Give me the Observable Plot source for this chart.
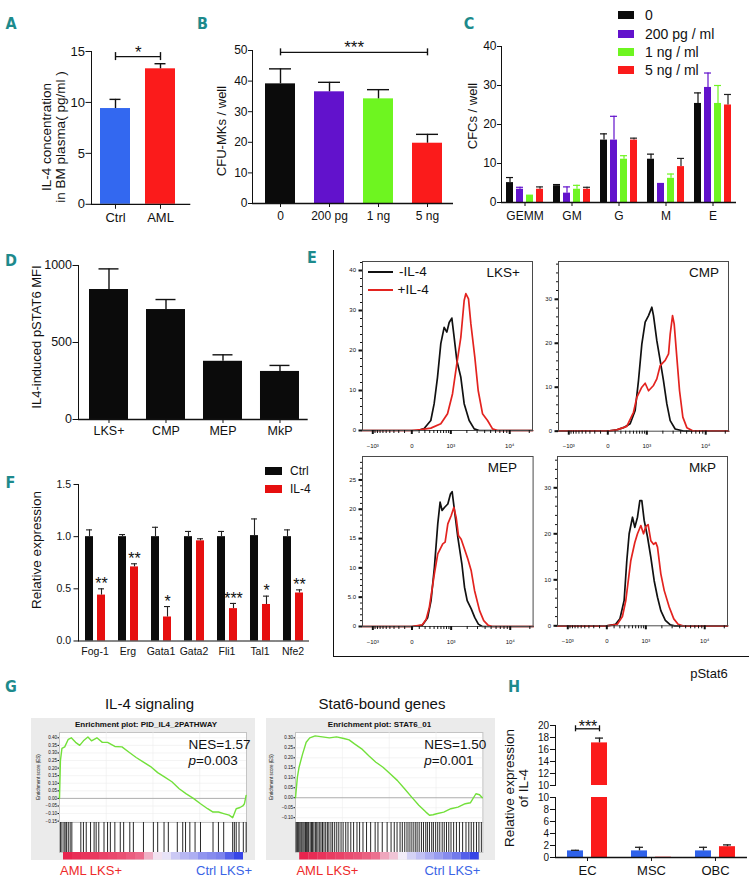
<!DOCTYPE html>
<html><head><meta charset="utf-8">
<script src="https://cdn.jsdelivr.net/npm/d3@7"></script>
<script src="https://cdn.jsdelivr.net/npm/@observablehq/plot@0.6"></script>
<style>
body{margin:0;background:#fff;}
#root{position:relative;width:755px;height:881px;overflow:hidden;background:#fff;font-family:"Liberation Sans",Arial,sans-serif;}
.t{position:absolute;white-space:nowrap;line-height:1;}
</style></head><body><div id="root"></div>
<script>
// ================= DATA =================
// A
const groupsA = ["Ctrl", "AML"];
const valuesA = [9.4, 13.3];
const errorsA = [10.3, 13.8];
const ticksA = [0, 5, 10, 15];
const sigA = {from: "Ctrl", to: "AML", y: 14.5, label: "*"};
// B
const groupsB = ["0", "200 pg", "1 ng", "5 ng"];
const valuesB = [39.1, 36.5, 34.2, 19.7];
const errorsB = [44.0, 39.6, 37.2, 22.6];
const ticksB = [0, 10, 20, 30, 40, 50];
const sigB = {from: "0", to: "5 ng", mid: "200 pg", y: 49.4, label: "***"};
// C
const typesC = ["GEMM", "GM", "G", "M", "E"];
const seriesC = ["0", "200 pg / ml", "1 ng / ml", "5 ng / ml"];
const c0 = [5.1, 4.3, 16.0, 11.1, 25.4];
const c0Err = [6.4, 4.6, 17.6, 12.4, 28.1];
const c200 = [3.4, 2.4, 16.0, 4.9, 29.5];
const c200Err = [3.9, 4.0, 22.1, null, 33.2];
const c1 = [1.9, 3.4, 11.1, 6.2, 25.4];
const c1Err = [null, 4.4, 12.0, 7.3, 30.0];
const c5 = [3.4, 3.4, 16.0, 9.2, 25.0];
const c5Err = [4.0, 3.9, 16.5, 11.3, 27.7];
const ticksC = [0, 10, 20, 30, 40];
// D
const groupsD = ["LKS+", "CMP", "MEP", "MkP"];
const valuesD = [844, 714, 378, 312];
const errorsD = [978, 779, 420, 351];
const ticksD = [0, 500, 1000];
// E (flow histograms: [pStat6 intensity, count])
const flowXMajor = [-1000, 0, 1000, 10000];
const flowXLabels = ["\u221210\u00b3", "0", "10\u00b3", "10\u2074"];
const flowXMinor = [-900,-800,-700,-600,-500,-400,-300,-200,-100,100,200,300,400,500,600,700,800,900,2000,3000,4000,5000,6000,7000,8000,9000,20000];
const flowXDomain = [-1577, 22400];
const lksBlack = [[-1577,0],[0,0],[76,0],[186,0.5],[325,2.5],[408,6.7],[501,13.3],[604,21.7],[721,25.8],[825,24.6],[924,27],[1047,28.1],[1164,23.3],[1311,17.5],[1557,13.3],[1790,6.7],[2195,2.5],[2679,0.4],[3245,0],[22400,0]];
const lksRed = [[-1577,0],[0,0],[128,0.2],[325,0.6],[604,1.7],[854,4.2],[1081,9.2],[1311,16.7],[1557,23.3],[1790,32.5],[1917,34.2],[2137,32.9],[2347,26.7],[2746,18.3],[3125,10],[3687,4.2],[4455,2.5],[5360,0.4],[6440,0],[22400,0]];
const cmpBlack = [[-1577,0],[0,0],[128,0.3],[251,0.8],[408,1.7],[551,4.7],[661,11.5],[785,19.8],[924,24.8],[1081,26.3],[1254,28.2],[1350,26.3],[1557,20.6],[1790,16.1],[2050,11.5],[2347,6.2],[2679,2.4],[3245,0.5],[4455,0],[22400,0]];
const cmpRed = [[-1577,0],[0,0],[128,0.3],[325,1.1],[501,4.3],[604,7.7],[785,10],[924,10.9],[1081,9.2],[1350,10.4],[1557,11.9],[1790,14.9],[2195,16.1],[2510,17.6],[2679,22.1],[2934,26.3],[3125,24.4],[3460,16.8],[3834,9.2],[4340,3.2],[5036,0.8],[6440,0],[22400,0]];
const mepBlack = [[-1577,0],[0,0],[150,0.2],[250,1.5],[325,4.4],[408,10.1],[501,17.5],[572,21.2],[638,19.8],[721,20.3],[854,20.9],[968,22.6],[1047,23],[1164,19.8],[1350,15.2],[1603,10.7],[1790,6.7],[1997,4.4],[2347,3.0],[2700,1.5],[3100,0.4],[3600,0],[22400,0]];
const mepRed = [[-1577,0],[0,0],[150,0.3],[220,1.2],[287,3.3],[408,9.0],[501,12.4],[661,14.1],[747,14.4],[854,17.5],[1000,18.9],[1131,20.3],[1254,18.6],[1387,15.5],[1557,14.9],[1744,13.5],[2050,11.5],[2347,9.5],[2679,6.1],[3245,2.7],[3800,1.0],[4500,0.2],[5200,0],[22400,0]];
const mkpBlack = [[-1577,0],[0,0],[120,0.3],[200,1.5],[287,5.5],[349,14.2],[408,20],[501,23.6],[572,21.4],[661,23.6],[747,27.2],[825,27.2],[924,22.9],[1081,19.3],[1254,14.9],[1451,9.8],[1671,6.2],[1917,3.3],[2300,1.2],[2800,0.2],[3300,0],[22400,0]];
const mkpRed = [[-1577,0],[0,0],[150,0.3],[250,2],[325,5.5],[453,14.2],[572,18.1],[661,20],[785,21.8],[896,20],[1000,21.6],[1111,22],[1254,18.5],[1412,17.7],[1557,18.1],[1671,17.1],[1917,11.3],[2195,7.7],[2679,4.1],[3200,1.5],[3800,0.3],[4500,0],[22400,0]];
const lksTicks = [0, 10, 20, 30, 40], lksLabels = ["0", "10", "20", "30", "40"];
const cmpTicks = [0, 10, 20, 30], cmpLabels = ["0", "10", "20", "30"];
const mepTicks = [0, 5, 10, 15, 20, 25], mepLabels = ["0", "5.0", "10", "15", "20", "25"];
const mkpTicks = [0, 10, 20, 30], mkpLabels = ["0", "10", "20", "30"];
// F
const genesF = ["Fog-1", "Erg", "Gata1", "Gata2", "Fli1", "Tal1", "Nfe2"];
const ctrlF = [1.0, 1.0, 1.0, 1.0, 1.0, 1.01, 1.0];
const ctrlErrF = [1.065, 1.02, 1.09, 1.05, 1.05, 1.17, 1.065];
const il4F = [0.44, 0.71, 0.23, 0.96, 0.31, 0.35, 0.46];
const il4ErrF = [0.50, 0.74, 0.33, 0.98, 0.36, 0.43, 0.49];
const starsF = ["**", "**", "*", "", "***", "*", "**"];
const ticksF = [0, 0.5, 1.0, 1.5];
// G (x = position in ranked gene list, %)
const esIL4 = [[0,0],[0.5,0.25],[1.3,0.33],[2.8,0.34],[4.7,0.39],[6.3,0.40],[8.6,0.37],[10.8,0.35],[12.8,0.38],[15.2,0.405],[17.1,0.38],[20,0.40],[22.9,0.37],[25.7,0.37],[29.6,0.343],[33.4,0.34],[37.2,0.305],[41,0.27],[44.9,0.24],[48.7,0.21],[52.5,0.17],[56.3,0.14],[60.1,0.11],[64,0.064],[67.8,0.03],[71.6,0.0],[75.4,-0.035],[79.2,-0.068],[82.1,-0.09],[85,-0.09],[87.8,-0.10],[90.7,-0.11],[92.6,-0.127],[93.5,-0.10],[94.5,-0.068],[96.5,-0.06],[98,-0.05],[98.9,-0.035],[99.8,0.02]];
const hitsIL4 = [0.5,1.3,2.4,3.0,3.8,4.7,5.7,6.6,11.4,12.8,14.3,16.6,18.5,19.6,21.0,23.8,25.7,27.2,29.6,32.5,34.3,37.6,39.5,44.9,50.2,52.5,55.9,58.2,63.0,65.9,67.4,69.7,72.5,75.4,82.1,85.0,87.8,92.6,93.5,94.5,96.0,98.3,99.8];
const rankIL4 = [1.0,0.95,0.92,0.9,0.85,0.82,0.78,0.72,0.65,0.3,0.05,-0.05,-0.2,-0.3,-0.35,-0.5,-0.55,-0.6,-0.8,-0.95];
const esTicksIL4 = [-0.15,-0.10,-0.05,0,0.05,0.10,0.15,0.20,0.25,0.30,0.35,0.40];
const esStat6 = [[0,0],[1,0.103],[1.9,0.153],[3.8,0.22],[5.7,0.278],[7.6,0.30],[10.5,0.31],[14.3,0.305],[18.1,0.30],[21.9,0.305],[25.8,0.297],[28.6,0.29],[31.5,0.27],[35.3,0.245],[39.1,0.21],[42.9,0.178],[46.7,0.153],[50.5,0.12],[54.3,0.087],[58.2,0.045],[62,0.003],[65.8,-0.038],[69.6,-0.072],[71.5,-0.088],[73.4,-0.085],[75.3,-0.08],[79.1,-0.072],[82.9,-0.055],[86.7,-0.047],[90.6,-0.03],[93.4,-0.025],[96.3,0.02],[98.2,0.015],[99.7,0.0]];
const hitsStat6 = [0.3,0.8,1.2,1.7,2.3,2.9,3.4,4.0,4.6,5.3,5.9,6.5,7.0,7.8,8.5,9.1,9.8,10.6,11.3,12.0,12.9,13.6,14.4,15.2,16.1,17.0,17.8,18.9,19.8,20.9,22.0,23.1,24.3,25.4,26.8,28.0,29.5,31.0,32.8,34.2,36.0,37.9,40.1,42.5,44.0,46.3,48.9,51.0,52.7,54.2,55.8,57.0,58.3,59.5,60.6,61.7,62.8,63.9,64.9,66.0,67.2,68.3,69.5,70.4,71.5,72.7,73.6,74.8,75.9,77.0,78.3,79.4,80.6,81.8,83.0,84.4,85.9,87.5,89.2,91.0,92.5,93.8,95.1,96.6,97.9,99.2];
const rankStat6 = [1.0,0.96,0.92,0.88,0.85,0.8,0.76,0.7,0.62,0.35,0.2,0.0,-0.15,-0.25,-0.35,-0.45,-0.55,-0.65,-0.8,-0.95];
const esTicksStat6 = [-0.10,-0.05,0,0.05,0.10,0.15,0.20,0.25,0.30];
// H
const groupsH = ["EC", "MSC", "OBC"];
const ctrlH = [1.1, 1.1, 1.1];
const ctrlErrH = [1.2, 1.7, 1.7];
const amlH = [17.1, 0.05, 1.8];
const amlErrH = [17.9, null, 2.1];
const ticksHLow = [0, 2, 4, 6, 8, 10];
const ticksHHigh = [10, 12, 14, 16, 18, 20];
const sigH = {group: "EC", from: "Ctrl", to: "AML", y: 19.45, label: "***"};

// ================= STYLE =================
const INK = "#111", BLUE = "#3368f0", RED = "#fb1b1b", PURPLE = "#6212cc", GREEN = "#6ef520";
const FLOWRED = "#e3231f", ESGREEN = "#72e03a", TEAL = "#1d8a8c";
const FONT = '"Liberation Sans", Arial, sans-serif';
const HAS_AXIS = typeof Plot.axisX === "function";
const root = document.getElementById("root");

function place(frame, pad, opts) {
  const [x0, y0, x1, y1] = frame, [pt, pr, pb, pl] = pad;
  const style = Object.assign({background: "transparent", overflow: "visible", fontFamily: FONT, color: INK}, opts.style || {});
  const svg = Plot.plot(Object.assign({}, opts, {
    width: x1 - x0 + pl + pr, height: y1 - y0 + pt + pb,
    marginTop: pt, marginRight: pr, marginBottom: pb, marginLeft: pl, style
  }));
  svg.style.position = "absolute";
  svg.style.left = (x0 - pl) + "px";
  svg.style.top = (y0 - pt) + "px";
  svg.style.maxWidth = "none";
  root.appendChild(svg);
  return svg;
}
const rel = (frame, pad, a, b) => [a - (frame[0] - pad[3]), b - (frame[0] - pad[3])];
const pxToY = (frame, span, px) => px * span / (frame[3] - frame[1]);

function txt(s, x, y, o = {}) {
  const d = document.createElement("div");
  d.className = "t"; d.innerHTML = s;
  const a = o.anchor || "middle";
  const tx = a === "start" ? "0" : a === "end" ? "-100%" : "-50%";
  const tr = o.rotate ? "translate(-50%,-50%) rotate(-90deg)" : `translate(${tx},-50%)`;
  Object.assign(d.style, {left: x + "px", top: y + "px", fontSize: (o.size || 13) + "px", color: o.color || INK,
    fontFamily: o.font || FONT, fontWeight: o.weight || "normal", transform: tr, textAlign: "center"});
  if (o.lh) d.style.lineHeight = o.lh;
  root.appendChild(d);
  return d;
}
function box(x, y, w, h, bg) {
  const d = document.createElement("div");
  Object.assign(d.style, {position: "absolute", left: x + "px", top: y + "px", width: w + "px", height: h + "px", background: bg});
  root.appendChild(d);
}
function letter(s, x, y) { txt(s, x, y, {size: 16, weight: "bold", color: TEAL, font: '"DejaVu Sans Condensed","DejaVu Sans",sans-serif'}); }

// ================= A =================
{
  const frame = [90.7, 50.7, 190, 203.5], pad = [20, 10, 30, 40];
  const range = rel(frame, pad, 99, 174.5), pi = 0.34, step = (range[1] - range[0]) / (groupsA.length - pi);
  const colA = [BLUE, RED];
  const rows = groupsA.map((g, i) => ({g, v: valuesA[i], e: errorsA[i], c: colA[i]}));
  const cap = pxToY(frame, 15, 4);
  place(frame, pad, {
    style: {fontSize: "13px"}, color: {type: "identity"},
    x: {type: "band", domain: groupsA, range, paddingInner: pi, paddingOuter: 0, label: null, tickSize: 5, tickPadding: 3},
    y: {domain: [0, 15], ticks: ticksA, tickSize: 5.5, tickPadding: 1, label: null, line: true},
    marks: [
      Plot.barY(rows, {x: "g", y: "v", fill: "c"}),
      Plot.ruleX(rows, {x: "g", y1: "v", y2: "e", stroke: INK, strokeWidth: 1.4}),
      Plot.tickY(rows, {x: "g", y: "e", stroke: INK, strokeWidth: 1.4, insetLeft: 9.5, insetRight: 9.5}),
      Plot.ruleY([0], {stroke: INK, strokeWidth: 1.3}),
      Plot.link([sigA], {x1: "from", x2: "to", y1: "y", y2: "y", stroke: INK, strokeWidth: 1.4}),
      Plot.ruleX([sigA.from, sigA.to], {x: d => d, y1: sigA.y - cap, y2: sigA.y + cap, stroke: INK, strokeWidth: 1.4}),
      Plot.text([sigA], {x: "from", y: "y", text: "label", dx: step / 2, dy: -4, fontSize: 17})
    ]
  });
}
// ================= B =================
{
  const frame = [252, 50, 453, 203], pad = [20, 10, 30, 40];
  const range = rel(frame, pad, 264, 442), pi = 0.39, step = (range[1] - range[0]) / (groupsB.length - pi);
  const colB = ["#0b0b0b", PURPLE, GREEN, RED];
  const rows = groupsB.map((g, i) => ({g, v: valuesB[i], e: errorsB[i], c: colB[i]}));
  const cap = pxToY(frame, 50, 3.5);
  place(frame, pad, {
    style: {fontSize: "12px"}, color: {type: "identity"},
    x: {type: "band", domain: groupsB, range, paddingInner: pi, paddingOuter: 0, label: null, tickSize: 4, tickPadding: 4},
    y: {domain: [0, 50], ticks: ticksB, tickSize: 4, tickPadding: 1, label: null, line: true},
    marks: [
      Plot.barY(rows, {x: "g", y: "v", fill: "c"}),
      Plot.ruleX(rows, {x: "g", y1: "v", y2: "e", stroke: INK, strokeWidth: 1.4}),
      Plot.tickY(rows, {x: "g", y: "e", stroke: INK, strokeWidth: 1.4, insetLeft: 4, insetRight: 4}),
      Plot.ruleY([0], {stroke: INK, strokeWidth: 1.3}),
      Plot.link([sigB], {x1: "from", x2: "to", y1: "y", y2: "y", stroke: INK, strokeWidth: 1.4}),
      Plot.ruleX([sigB.from, sigB.to], {x: d => d, y1: sigB.y - cap, y2: sigB.y + cap, stroke: INK, strokeWidth: 1.4}),
      Plot.text([sigB], {x: "mid", y: "y", text: "label", dx: step / 2, dy: -5, fontSize: 17})
    ]
  });
}
// ================= C =================
{
  const frame = [500.7, 45.7, 735.7, 201.7], pad = [10, 10, 30, 36];
  const valsC = [c0, c200, c1, c5], errsC = [c0Err, c200Err, c1Err, c5Err];
  const colC = ["#0b0b0b", PURPLE, GREEN, RED], errColC = [INK, PURPLE, GREEN, "#222"];
  const rows = typesC.flatMap((t, i) => seriesC.map((s, j) => ({t, s, v: valsC[j][i], e: errsC[j][i], c: colC[j], ec: errColC[j]})));
  const errRows = rows.filter(d => d.e != null);
  place(frame, pad, {
    style: {fontSize: "12px"}, color: {type: "identity"},
    fx: {domain: typesC, padding: 0, axis: "bottom", tickSize: 4, tickPadding: 5, label: null},
    x: {domain: seriesC, paddingInner: 0.35, paddingOuter: 0.525, axis: null},
    y: {domain: [0, 40], ticks: ticksC, tickSize: 4, tickPadding: 1, label: null, line: true},
    marks: [
      Plot.barY(rows, {fx: "t", x: "s", y: "v", fill: "c"}),
      Plot.ruleX(errRows, {fx: "t", x: "s", y1: "v", y2: "e", stroke: "ec", strokeWidth: 1.2}),
      Plot.tickY(errRows, {fx: "t", x: "s", y: "e", stroke: "ec", strokeWidth: 1.2}),
      Plot.ruleY([0], {stroke: INK, strokeWidth: 1.3})
    ]
  });
  const legY = [15.3, 33.5, 51.7, 70];
  seriesC.forEach((s, j) => { box(618, legY[j] - 4, 16, 8, colC[j]); txt(s, 645, legY[j], {anchor: "start", size: 14}); });
}
// ================= D =================
{
  const frame = [78.3, 265, 308, 419], pad = [10, 10, 30, 45];
  const range = rel(frame, pad, 87.7, 299.5);
  const rows = groupsD.map((g, i) => ({g, v: valuesD[i], e: errorsD[i]}));
  place(frame, pad, {
    style: {fontSize: "12.5px"},
    x: {type: "band", domain: groupsD, range, paddingInner: 0.323, paddingOuter: 0, label: null, tickSize: 4, tickPadding: 3},
    y: {domain: [0, 1000], ticks: ticksD, tickFormat: d => String(d), tickSize: 5.5, tickPadding: 1, label: null, line: true},
    marks: [
      Plot.barY(rows, {x: "g", y: "v", fill: "#0b0b0b"}),
      Plot.ruleX(rows, {x: "g", y1: "v", y2: "e", stroke: INK, strokeWidth: 1.4}),
      Plot.tickY(rows, {x: "g", y: "e", stroke: INK, strokeWidth: 1.4, insetLeft: 9.5, insetRight: 9.5}),
      Plot.ruleY([0], {stroke: INK, strokeWidth: 1.3})
    ]
  });
}
// ================= E =================
function flow(frame, yDomain, yTicks, yLabels, minorStep, black, red) {
  const yMinor = d3.range(0, yDomain[1], minorStep);
  const marks = [
    Plot.line(black, {x: d => d[0], y: d => d[1], stroke: INK, strokeWidth: 1.7}),
    Plot.line(red, {x: d => d[0], y: d => d[1], stroke: FLOWRED, strokeWidth: 1.7}),
    Plot.frame({stroke: "#4a4a4a", strokeWidth: 1})
  ];
  const opts = {style: {fontSize: "6px"}, x: {type: "symlog", constant: 350, domain: flowXDomain, label: null}, y: {domain: yDomain, label: null}};
  if (HAS_AXIS) {
    marks.push(
      Plot.axisY(yMinor, {tickSize: 2, strokeWidth: 1, tickFormat: () => "", label: null}),
      Plot.axisY(yTicks, {tickSize: 3.5, strokeWidth: 2, tickPadding: 3, tickFormat: d => yLabels[yTicks.indexOf(d)], label: null}),
      Plot.axisX(flowXMinor, {tickSize: 3, strokeWidth: 1, tickFormat: () => "", label: null}),
      Plot.axisX(flowXMajor, {tickSize: 4, strokeWidth: 2, tickPadding: 9, tickFormat: d => flowXLabels[flowXMajor.indexOf(d)], label: null})
    );
  } else {
    Object.assign(opts.x, {ticks: flowXMajor, tickFormat: d => flowXLabels[flowXMajor.indexOf(d)], tickSize: 4, tickPadding: 9});
    Object.assign(opts.y, {ticks: yTicks, tickFormat: d => yLabels[yTicks.indexOf(d)], tickSize: 3.5, tickPadding: 3});
  }
  opts.marks = marks;
  place(frame, [6, 8, 24, 28], opts);
}
flow([361.7, 261, 531.7, 430], [0, 42.25], lksTicks, lksLabels, 2, lksBlack, lksRed);
flow([558.3, 261, 728.3, 430.7], [0, 38.6], cmpTicks, cmpLabels, 2, cmpBlack, cmpRed);
flow([361.7, 456, 532.3, 626], [0, 29], mepTicks, mepLabels, 1, mepBlack, mepRed);
flow([556.7, 456, 726.7, 625.3], [0, 36.8], mkpTicks, mkpLabels, 2, mkpBlack, mkpRed);
box(332.5, 250, 1.5, 406.5, INK);
box(332.5, 655.5, 416, 1.5, INK);
box(368, 271, 25, 1.6, INK); txt("-IL-4", 399, 271.7, {anchor: "start", size: 13.5});
box(368, 289.3, 25, 1.6, FLOWRED); txt("+IL-4", 397.5, 290, {anchor: "start", size: 13.5});
txt("LKS+", 520, 273, {anchor: "end", size: 13.5});
txt("CMP", 719, 273, {anchor: "end", size: 13.5});
txt("MEP", 517, 468, {anchor: "end", size: 13.5});
txt("MkP", 716, 468, {anchor: "end", size: 13.5});
txt("pStat6", 709, 673, {size: 13});

// ================= F =================
{
  const frame = [77.3, 484, 310.6, 640.5], pad = [10, 10, 24, 40];
  const rows = genesF.flatMap((g, i) => [
    {g, s: "Ctrl", v: ctrlF[i], e: ctrlErrF[i], c: "#0b0b0b", star: ""},
    {g, s: "IL-4", v: il4F[i], e: il4ErrF[i], c: "#e60f0f", star: starsF[i]}
  ]);
  place(frame, pad, {
    style: {fontSize: "10.5px"}, color: {type: "identity"},
    fx: {domain: genesF, padding: 0, axis: "bottom", tickSize: 0, tickPadding: 7, label: null},
    x: {domain: ["Ctrl", "IL-4"], paddingInner: 0.35, paddingOuter: 0.486, axis: null},
    y: {domain: [0, 1.5], ticks: ticksF, tickFormat: d3.format(".1f"), tickSize: 4.5, tickPadding: 3, label: null, line: true},
    marks: [
      Plot.barY(rows, {fx: "g", x: "s", y: "v", fill: "c"}),
      Plot.ruleX(rows, {fx: "g", x: "s", y1: "v", y2: "e", stroke: "#222", strokeWidth: 1.1}),
      Plot.tickY(rows, {fx: "g", x: "s", y: "e", stroke: "#222", strokeWidth: 1.1, insetLeft: 1, insetRight: 1}),
      Plot.text(rows.filter(d => d.star), {fx: "g", x: "s", y: "e", text: "star", dy: -5, fontSize: 16}),
      Plot.ruleY([0], {stroke: INK, strokeWidth: 1.2})
    ]
  });
  box(265, 467, 17, 8, "#0b0b0b"); txt("Ctrl", 290, 471, {anchor: "start", size: 12});
  box(265, 485, 17, 8, "#e60f0f"); txt("IL-4", 290, 489, {anchor: "start", size: 12});
}

// ================= G =================
function gsea(esFrame, hitFrame, barFrame, yDomain, yTicks, es, hits, rank) {
  place(esFrame, [2, 2, 2, 14], {
    style: {fontSize: "4.5px"},
    x: {domain: [0, 100], axis: null},
    y: {domain: yDomain, ticks: yTicks, tickFormat: d3.format(".2f"), tickSize: 1.5, tickPadding: 1, label: null},
    marks: [
      Plot.frame({fill: "white", stroke: "#c4c4c4"}),
      Plot.ruleY(yTicks, {stroke: "#ececec", strokeWidth: 0.6}),
      Plot.ruleX([25, 50, 75], {stroke: "#ececec", strokeWidth: 0.6}),
      Plot.ruleY([0], {stroke: "#a0a0a0", strokeWidth: 0.8}),
      Plot.line(es, {x: d => d[0], y: d => d[1], stroke: ESGREEN, strokeWidth: 1.4})
    ]
  });
  place(hitFrame, [0, 2, 0, 2], {
    x: {domain: [0, 100], axis: null},
    marks: [Plot.frame({fill: "white", stroke: "#c4c4c4"}), Plot.ruleX(hits, {x: d => d, stroke: INK, strokeWidth: 0.9})]
  });
  place(barFrame, [0, 2, 0, 2], {
    x: {type: "band", domain: d3.range(rank.length), padding: 0, axis: null},
    color: {type: "linear", domain: [-1, 0, 1], range: ["#2d3ce6", "#f2ecf8", "#e8244e"]},
    marks: [Plot.cell(rank, {x: (d, i) => i, fill: d => d, inset: 0})]
  });
}
box(31, 718, 224, 142, "#ebebeb");
box(266, 718, 228.6, 142, "#ebebeb");
gsea([59, 732, 246, 822], [59, 822, 246, 852], [59, 852, 246, 859.5], [-0.159, 0.435], esTicksIL4, esIL4, hitsIL4, rankIL4);
gsea([294.6, 732, 482, 822], [294.6, 822, 482, 852], [294.6, 852, 482, 859.5], [-0.124, 0.327], esTicksStat6, esStat6, hitsStat6, rankStat6);
txt("IL-4 signaling", 149.5, 703, {size: 15});
txt("Stat6-bound genes", 382, 703, {size: 15});
txt("Enrichment plot: PID_IL4_2PATHWAY", 146, 725, {size: 8, weight: "bold"});
txt("Enrichment plot: STAT6_01", 379.5, 725, {size: 8, weight: "bold"});
txt("Enrichment score (ES)", 38.5, 777, {size: 4.5, rotate: true});
txt("Enrichment score (ES)", 272, 777, {size: 4.5, rotate: true});
txt("NES=1.57", 188.6, 745, {anchor: "start", size: 13.5});
txt("<i>p</i>=0.003", 188.6, 760.5, {anchor: "start", size: 13.5});
txt("NES=1.50", 424.3, 745, {anchor: "start", size: 13.5});
txt("<i>p</i>=0.001", 424.3, 760.5, {anchor: "start", size: 13.5});
txt("AML LKS+", 60, 870, {anchor: "start", size: 13, color: "#ee2a2a"});
txt("Ctrl LKS+", 252, 870, {anchor: "end", size: 13, color: "#3a64e6"});
txt("AML LKS+", 296.4, 870, {anchor: "start", size: 13, color: "#ee2a2a"});
txt("Ctrl LKS+", 480.4, 870, {anchor: "end", size: 13, color: "#3a64e6"});

// ================= H =================
{
  const rows = groupsH.flatMap((g, i) => [
    {g, s: "Ctrl", v: ctrlH[i], e: ctrlErrH[i], c: "#2f62ea"},
    {g, s: "AML", v: amlH[i], e: amlErrH[i], c: RED}
  ]);
  const hx = {domain: ["Ctrl", "AML"], paddingInner: 0.333, paddingOuter: 0.455, axis: null};
  const lowFrame = [553.6, 796.7, 746.7, 856.7], highFrame = [553.6, 725, 746.7, 785];
  const facetW = (lowFrame[2] - lowFrame[0]) / groupsH.length;
  const step = facetW / (2 - 0.333 + 2 * 0.455);
  const lowErr = rows.filter(d => d.e != null && d.e < 10), highErr = rows.filter(d => d.e != null && d.e >= 10);
  const cap = pxToY(highFrame, 10, 3);
  place(lowFrame, [4, 8, 24, 30], {
    style: {fontSize: "10px"}, color: {type: "identity"},
    fx: {domain: groupsH, padding: 0, axis: null},
    x: hx,
    y: {domain: [0, 10], ticks: ticksHLow, tickSize: 5, tickPadding: 1.5, label: null, line: true},
    marks: [
      Plot.barY(rows, {fx: "g", x: "s", y: "v", fill: "c", clip: true}),
      Plot.ruleX(lowErr, {fx: "g", x: "s", y1: "v", y2: "e", stroke: "#222", strokeWidth: 1.3}),
      Plot.tickY(lowErr, {fx: "g", x: "s", y: "e", stroke: "#222", strokeWidth: 1.3, insetLeft: 4, insetRight: 4}),
      Plot.ruleY([0], {stroke: INK, strokeWidth: 1.3})
    ]
  });
  // category axis of H (separate svg so its labels can be larger than the dense y ticks)
  place(lowFrame, [4, 8, 24, 30], {
    style: {fontSize: "13px"},
    fx: {domain: groupsH, padding: 0, axis: "bottom", tickSize: 4, tickPadding: 4, label: null},
    x: hx, y: {domain: [0, 10], axis: null},
    marks: [Plot.ruleY(groupsH, {fx: d => d, y: 0, strokeOpacity: 0})]
  });
  place(highFrame, [14, 8, 4, 30], {
    style: {fontSize: "10px"}, color: {type: "identity"},
    fx: {domain: groupsH, padding: 0, axis: null},
    x: hx,
    y: {domain: [10, 20], ticks: ticksHHigh, tickSize: 5, tickPadding: 1.5, label: null, line: true},
    marks: [
      Plot.barY(rows, {fx: "g", x: "s", y: "v", fill: "c", clip: true}),
      Plot.ruleX(highErr, {fx: "g", x: "s", y1: "v", y2: "e", stroke: "#222", strokeWidth: 1.3}),
      Plot.tickY(highErr, {fx: "g", x: "s", y: "e", stroke: "#222", strokeWidth: 1.3, insetLeft: 4, insetRight: 4}),
      Plot.link([sigH], {fx: "group", x1: "from", x2: "to", y1: "y", y2: "y", stroke: INK, strokeWidth: 1.3}),
      Plot.ruleX([sigH.from, sigH.to].map(s => ({g: sigH.group, s})), {fx: "g", x: "s", y1: sigH.y - cap, y2: sigH.y + cap, stroke: INK, strokeWidth: 1.3}),
      Plot.text([sigH], {fx: "group", x: "from", y: "y", text: "label", dx: step / 2, dy: -2, fontSize: 16})
    ]
  });
}

// ================= labels =================
letter("A", 11, 23.5); letter("B", 202.5, 23.5); letter("C", 469, 23.5);
letter("D", 11, 260.5); letter("E", 312, 258); letter("F", 10.5, 483);
letter("G", 11, 687); letter("H", 514, 687);
txt("IL-4 concentration<br>in BM plasma( pg/ml )", 53, 137, {rotate: true, size: 13.5, lh: "13.5px"});
txt("CFU-MKs / well", 221, 131, {rotate: true, size: 13});
txt("CFCs / well", 471.5, 116, {rotate: true, size: 13});
txt("IL4-induced pSTAT6 MFI", 36, 337, {rotate: true, size: 13});
txt("Relative expression", 37, 549.5, {rotate: true, size: 13.5});
txt("Relative expression<br>of IL-4", 516, 788, {rotate: true, size: 13.5, lh: "13.5px"});
</script></body></html>
